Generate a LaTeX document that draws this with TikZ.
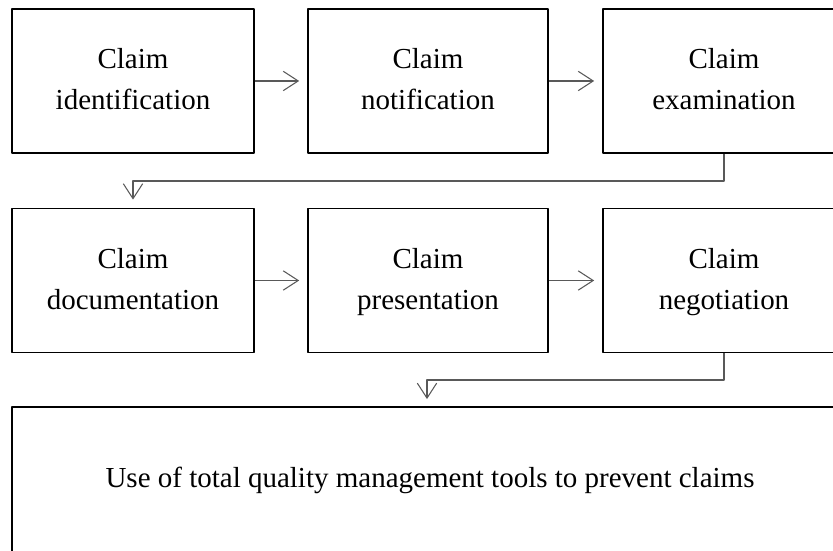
\documentclass[tikz,border=0pt]{standalone}
\usepackage{fontspec}
\setmainfont{Liberation Serif}
\usetikzlibrary{arrows.meta}
\begin{document}
\begin{tikzpicture}[x=0.02cm, y=0.02cm, line join=round,
	font=\fontsize{16.5}{23.5}\selectfont,
	stage/.style={draw, line width=1.1pt, align=center, minimum width=4.84cm, minimum height=2.88cm, inner sep=0pt},
	link/.style={draw=black!65, line width=0.6pt, -{Straight Barb[length=8.5pt, width=11pt]}, shorten >=4.5pt}]
\clip (0,0) rectangle (833,551);
			\node[stage] (ident) at (133,470) {\strut Claim\\\strut identification};
			\node[stage, minimum width=4.8cm] (notif) at (428,470) {\strut Claim\\\strut notification};
			\node[stage] (exam) at (724,470) {\strut Claim\\\strut examination};
			\node[stage] (doc) at (133,270.5) {\strut Claim\\\strut documentation};
			\node[stage, minimum width=4.8cm] (pres) at (428,270.5) {\strut Claim\\\strut presentation};
			\node[stage] (nego) at (724,270.5) {\strut Claim\\\strut negotiation};
			\node[stage, minimum width=16.72cm, minimum height=2.92cm] (tqm) at (430,71) {Use of total quality management tools to prevent claims};
			\draw[link] (ident) -- (notif);
			\draw[link] (notif) -- (exam);
			\draw[link] (exam.south) |- (133,370) -- (doc.north);
			\draw[link] (doc) -- (pres);
			\draw[link] (pres) -- (nego);
			\draw[link] (nego.south) |- (427,171) -- (427,144);
		\end{tikzpicture}
\end{document}
